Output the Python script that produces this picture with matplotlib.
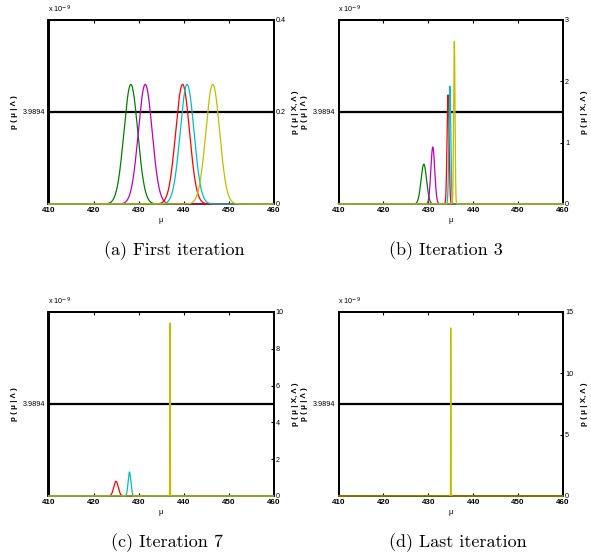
import numpy as np
import matplotlib
matplotlib.use('Agg')
import matplotlib.pyplot as plt

# mu axis
mu_min, mu_max = 410, 460
mu_ticks = [410, 420, 430, 440, 450, 460]

# prior p(mu | Lambda), in units of 1e-9
prior_level = 3.9894
prior_top = 7.9788

# colours (old MATLAB colour order)
c_green = (0.0, 0.5, 0.0)
c_red = (1.0, 0.0, 0.0)
c_cyan = (0.0, 0.75, 0.75)
c_magenta = (0.75, 0.0, 0.75)
c_yellow = (0.75, 0.75, 0.0)

# posterior peaks: location, peak height, colour
a_loc = [428.3, 431.5, 439.8, 440.8, 446.5]
a_peak = [0.26, 0.26, 0.26, 0.26, 0.26]
a_col = [c_green, c_magenta, c_red, c_cyan, c_yellow]

b_loc = [429.0, 431.0, 434.4, 434.8, 435.8]
b_peak = [0.65, 0.93, 1.78, 1.92, 2.65]
b_col = [c_green, c_magenta, c_red, c_cyan, c_yellow]

c_loc = [425.0, 428.0, 437.0]
c_peak = [0.80, 1.30, 9.40]
c_col = [c_red, c_cyan, c_yellow]

d_loc = [435.0]
d_peak = [13.7]
d_col = [c_yellow]

right_lims = [0.4, 3, 10, 15]
right_ticks = [[0, 0.2, 0.4], [0, 1, 2, 3], [0, 2, 4, 6, 8, 10], [0, 5, 10, 15]]
right_labels = [['0', '0.2', '0.4'], ['0', '1', '2', '3'],
                ['0', '2', '4', '6', '8', '10'], ['0', '5', '10', '15']]
captions = ['(a) First iteration', '(b) Iteration 3',
            '(c) Iteration 7', '(d) Last iteration']

panels = [(a_loc, a_peak, a_col), (b_loc, b_peak, b_col),
          (c_loc, c_peak, c_col), (d_loc, d_peak, d_col)]

W, H = 591, 556
fig = plt.figure(figsize=(W / 100, H / 100), dpi=100)

# axes boxes in pixels: left, top, right, bottom
boxes = [(48.5, 20, 273.5, 204), (338.5, 20, 563, 204),
         (48.5, 312, 273.5, 496), (338.5, 312, 563, 496)]
# caption centres in pixels
cap_pos = [(174, 251), (446, 251), (167, 543), (458, 543)]

mu = np.linspace(mu_min, mu_max, 20001)
sans = 'Liberation Sans'
xtick_font = dict(family=sans, size=5.8, weight='bold')
ytick_font = dict(family=sans, size=5.2)

for i, (box, (locs, peaks, cols)) in enumerate(zip(boxes, panels)):
    l, t, r, b = box
    w = r - l
    ax = fig.add_axes([l / W, 1 - b / H, w / W, (b - t) / H])
    ax.plot(mu, np.full_like(mu, prior_level), color='black', lw=1.6, zorder=1)
    ax.set_xlim(mu_min, mu_max)
    ax.set_ylim(0, prior_top)
    ax.set_xticks(mu_ticks)
    ax.set_xticklabels([str(v) for v in mu_ticks], fontdict=xtick_font)
    ax.set_yticks([prior_level])
    ax.set_yticklabels(['3.9894'], fontdict=ytick_font)
    ax.tick_params(direction='in', length=2.5, width=0.8, top=True)
    ax.tick_params(axis='x', pad=2.5)
    ax.tick_params(axis='y', pad=2)
    ax.set_xlabel('μ', fontsize=5.5, family=sans, labelpad=1.5)
    ax.set_ylabel('p ( μ | Λ )', fontsize=5.8, fontweight='bold', family=sans)
    ax.yaxis.set_label_coords(-31 / w, 0.5)
    ax.text(0, 1.025, 'x 10$^{-9}$', transform=ax.transAxes, fontsize=5.2,
            family=sans, va='bottom', ha='left')
    for s in ax.spines.values():
        s.set_linewidth(1.4)

    ax2 = ax.twinx()
    for loc, pk, col in zip(locs, peaks, cols):
        sigma = 1.0 / (pk * np.sqrt(2 * np.pi))
        dens = np.exp(-0.5 * ((mu - loc) / sigma) ** 2) / (sigma * np.sqrt(2 * np.pi))
        ax2.plot(mu, dens, color=col, lw=0.9, zorder=3, clip_on=False)
    ax2.set_xlim(mu_min, mu_max)
    ax2.set_ylim(0, right_lims[i])
    ax2.set_yticks(right_ticks[i])
    ax2.set_yticklabels(right_labels[i], fontdict=ytick_font)
    ax2.tick_params(direction='in', length=2.5, width=0.8, pad=1.5)
    ax2.set_ylabel('p ( μ | X, Λ )', fontsize=5.8, fontweight='bold', family=sans,
                   rotation=90)
    ax2.yaxis.set_label_coords(1 + 18.5 / w, 0.5)
    for s in ax2.spines.values():
        s.set_linewidth(1.4)

    cx, cy = cap_pos[i]
    fig.text(cx / W, 1 - cy / H, captions[i], family='cmr10', fontsize=13,
             ha='center', va='center')

fig.savefig('out.png', dpi=100)
